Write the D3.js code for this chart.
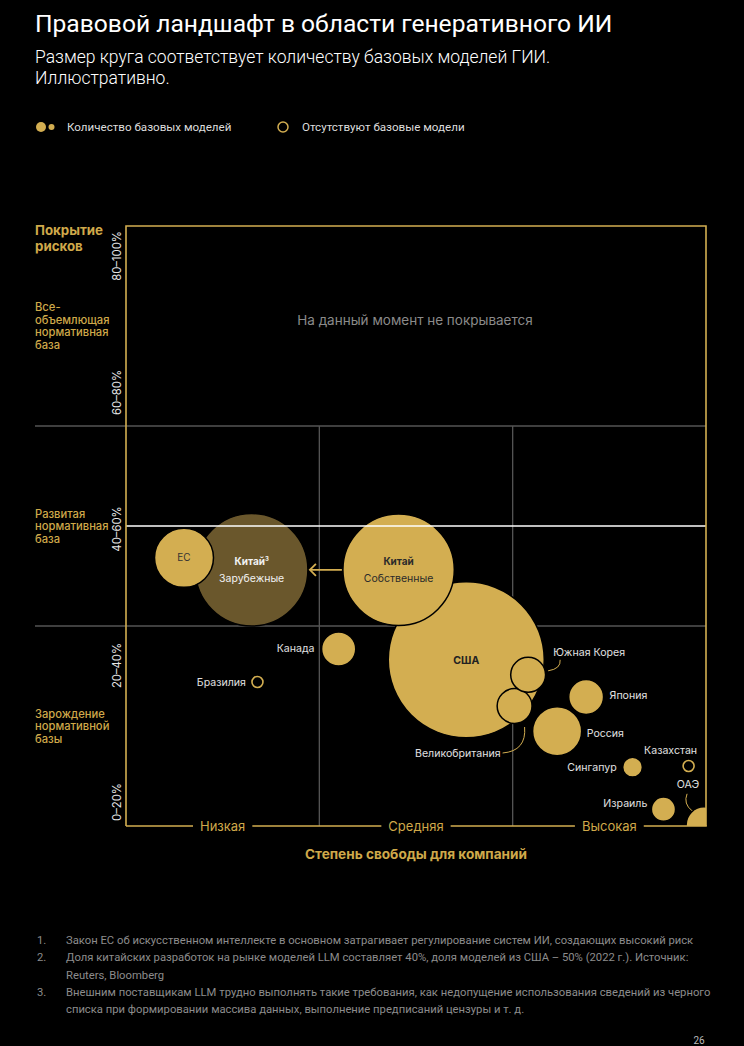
<!DOCTYPE html>
<html><head><meta charset="utf-8">
<script src="https://cdn.jsdelivr.net/npm/d3@7"></script>
<style>
html,body{margin:0;padding:0;background:#000;}
svg{display:block;}
</style></head>
<body>
<svg id="chart" width="744" height="1046"></svg>
<script>
// ---------------- DATA ----------------
const countries   = ["Китай", "ЕС", "США", "Китай", "Канада", "Бразилия", "Великобритания", "Южная Корея", "Япония", "Россия", "Сингапур", "Казахстан", "Израиль", "ОАЭ"];
const subLabels   = ["Зарубежные", "", "", "Собственные", "", "", "", "", "", "", "", "", "", ""];
const modelOrigin = ["foreign", "own", "own", "own", "own", "own", "own", "own", "own", "own", "own", "own", "own", "own"];
// Степень свободы для компаний: 0–3 (низкая / средняя / высокая)
const freedom     = [0.65, 0.30, 1.76, 1.41, 1.10, 0.68, 2.01, 2.08, 2.38, 2.23, 2.62, 2.91, 2.78, 2.99];
// Покрытие рисков, %
const riskCoverage= [42.7, 44.7, 27.7, 42.7, 29.5, 24.0, 20.0, 25.2, 21.5, 15.8, 9.8, 10.0, 2.8, 0.2];
// Количество базовых моделей (иллюстративно)
const modelCounts = [52, 14.3, 100, 51, 4.8, 0, 5.0, 5.0, 5.0, 9.9, 1.6, 0, 2.4, 5.3];

const xTickLabels = ["Низкая", "Средняя", "Высокая"];
const yTickLabels = ["0–20%", "20–40%", "40–60%", "60–80%", "80–100%"];
const levelLabels = [["Зарождение", "нормативной", "базы"], ["Развитая", "нормативная", "база"], ["Все-", "объемлющая", "нормативная", "база"]];
const legendLabels = ["Количество базовых моделей", "Отсутствуют базовые модели"];
const footnotes = [
  ["1.", ["Закон ЕС об искусственном интеллекте в основном затрагивает регулирование систем ИИ, создающих высокий риск"]],
  ["2.", ["Доля китайских разработок на рынке моделей LLM составляет 40%, доля моделей из США – 50% (2022 г.). Источник:", "Reuters, Bloomberg"]],
  ["3.", ["Внешним поставщикам LLM трудно выполнять такие требования, как недопущение использования сведений из черного", "списка при формировании массива данных, выполнение предписаний цензуры и т. д."]]
];

// ---------------- STYLE ----------------
const GOLD = "#D3AE51", GOLD_TXT = "#CFA94A", BROWN = "#6A572C", GRID = "#555", LABEL = "#e0e0e0";
const FONT = "Inter, 'Open Sans', sans-serif";
const FONT2 = "Roboto, 'Liberation Sans', sans-serif";

const svg = d3.select("#chart");
const L = 126, R = 706, T = 226, B = 826;

const x = d3.scaleLinear().domain([0, 3]).range([L, R]);
const y = d3.scaleLinear().domain([0, 100]).range([B, T]);
const r = d3.scaleSqrt().domain([0, 100]).range([0, 78]);
const xBand = d3.scaleBand().domain(xTickLabels).range([L, R]);
const yLevel = d3.scaleBand().domain(levelLabels.map(d => d[0])).range([B, T]);
const yTick = d3.scalePoint().domain(yTickLabels).range([y(4), y(95)]);

// ---------------- TITLE ----------------
svg.append("text").attr("x", 35).attr("y", 32).attr("fill", "#fff")
  .attr("font-family", FONT2).attr("font-size", 24.6).text("Правовой ландшафт в области генеративного ИИ");
["Размер круга соответствует количеству базовых моделей ГИИ.", "Иллюстративно."].forEach((t, i) =>
  svg.append("text").attr("x", 35).attr("y", 63 + i * 21).attr("fill", "#fff")
    .attr("font-family", FONT2).attr("font-size", 17.5).attr("font-weight", 300).text(t));

// ---------------- LEGEND ----------------
const lg = svg.append("g").attr("font-family", FONT2).attr("font-size", 11.6).attr("fill", "#ddd");
lg.append("circle").attr("cx", 41).attr("cy", 127).attr("r", 5).attr("fill", GOLD);
lg.append("circle").attr("cx", 51.5).attr("cy", 127).attr("r", 3).attr("fill", GOLD);
lg.append("text").attr("x", 67).attr("y", 131).text(legendLabels[0]);
lg.append("circle").attr("cx", 283).attr("cy", 127).attr("r", 5).attr("fill", "none").attr("stroke", GOLD).attr("stroke-width", 1.5);
lg.append("text").attr("x", 302).attr("y", 131).text(legendLabels[1]);

// ---------------- GRID ----------------
const grid = svg.append("g");
[1/3, 2/3].forEach(f => grid.append("line").attr("x1", 35).attr("x2", R)
  .attr("y1", y(f * 100)).attr("y2", y(f * 100)).attr("stroke", GRID).attr("stroke-width", 1.3));
[1, 2].forEach(v => grid.append("line").attr("x1", x(v)).attr("x2", x(v))
  .attr("y1", y(200/3)).attr("y2", B).attr("stroke", GRID).attr("stroke-width", 1.3));

svg.append("text").attr("x", (L + R) / 2 - 1).attr("y", yLevel(levelLabels[2][0]) + yLevel.bandwidth() / 2 - 1.5)
  .attr("text-anchor", "middle").attr("fill", "#8a8a8a").attr("font-family", FONT).attr("font-size", 13.5)
  .text("На данный момент не покрывается");

// ---------------- BUBBLES ----------------
const data = countries.map((c, i) => ({c, sub: subLabels[i], origin: modelOrigin[i], fx: freedom[i], fy: riskCoverage[i], n: modelCounts[i]}));
const drawOrder = [0, 1, 2, 3, 4, 5, 6, 7, 8, 9, 10, 11, 12, 13];
const plot = svg.append("g");
plot.append("clipPath").attr("id", "clip").append("rect").attr("x", L).attr("y", T).attr("width", R - L).attr("height", B - T);
const bub = plot.append("g").attr("clip-path", "url(#clip)");
drawOrder.map(i => data[i]).forEach(d => {
  if (d.n > 0) {
    bub.append("circle").attr("cx", x(d.fx)).attr("cy", y(d.fy)).attr("r", r(d.n))
      .attr("fill", d.origin === "foreign" ? BROWN : GOLD)
      .attr("stroke", "#000").attr("stroke-width", 1.5);
  } else {
    bub.append("circle").attr("cx", x(d.fx)).attr("cy", y(d.fy)).attr("r", 5.5)
      .attr("fill", "none").attr("stroke", GOLD).attr("stroke-width", 1.6);
  }
});

// white reference line
svg.append("line").attr("x1", L).attr("x2", R).attr("y1", y(50)).attr("y2", y(50)).attr("stroke", "#fff").attr("stroke-width", 1.6);

// arrow from own to foreign (China)
const cf = data[0], co = data[3];
const ax1 = x(co.fx) - r(co.n) - 1, ax2 = x(cf.fx) + r(cf.n) + 1, ay = y(co.fy);
svg.append("line").attr("x1", ax1).attr("x2", ax2 + 1).attr("y1", ay).attr("y2", ay).attr("stroke", GOLD).attr("stroke-width", 1.8);
svg.append("path").attr("d", `M${ax2 + 7},${ay - 6} L${ax2 + 1},${ay} L${ax2 + 7},${ay + 6}`)
  .attr("fill", "none").attr("stroke", GOLD).attr("stroke-width", 1.8);

// labels inside bubbles
const inner = svg.append("g").attr("font-family", FONT).attr("text-anchor", "middle");
[[0, "#f2f2f2"], [3, "#2a2a2a"]].forEach(([i, col]) => {
  const d = data[i];
  const t = inner.append("text").attr("x", x(d.fx)).attr("y", y(d.fy) - 5).attr("fill", col).attr("font-size", 10).attr("font-weight", 700).text(d.c);
  if (i === 0) t.append("tspan").attr("font-size", 6).attr("dy", -4).text("3");
  inner.append("text").attr("x", x(d.fx)).attr("y", y(d.fy) + 12).attr("fill", col).attr("font-size", 10.5).text(d.sub);
});
inner.append("text").attr("x", x(data[1].fx)).attr("y", y(data[1].fy) + 3.5).attr("fill", "#333").attr("font-size", 10).text(data[1].c);
inner.append("text").attr("x", x(data[2].fx)).attr("y", y(data[2].fy) + 4).attr("fill", "#222").attr("font-size", 10.5).attr("font-weight", 700).text(data[2].c);

// outside labels: [anchor, dx, dy] relative to bubble center and radius
const place = {
  "Канада": ["end", -7, 3], "Бразилия": ["end", -6, 4], "Южная Корея": ["start", 25, -19],
  "Япония": ["start", 6, 2], "Россия": ["start", 5, 6], "Сингапур": ["end", -6, 4],
  "Казахстан": ["middle", -18, -12], "Израиль": ["end", -4, -2], "ОАЭ": ["middle", -16, -37],
  "Великобритания": ["end", -14, 51]
};
const lab = svg.append("g").attr("font-family", FONT).attr("font-size", 10.6).attr("fill", LABEL);
data.forEach(d => {
  const p = place[d.c]; if (!p) return;
  const rr = d.n > 0 ? r(d.n) : 5.5;
  const cx = x(d.fx), cy = y(d.fy);
  let tx = cx + p[1];
  if (["Канада", "Бразилия", "Сингапур", "Израиль"].includes(d.c)) tx = cx - rr + p[1];
  if (["Япония", "Россия"].includes(d.c)) tx = cx + rr + p[1];
  lab.append("text").attr("x", tx).attr("y", cy + p[2]).attr("text-anchor", p[0]).text(d.c);
});
// leader lines
const lead = svg.append("g").attr("fill", "none").attr("stroke", GOLD).attr("stroke-width", 1);
{ const d = data[7], cx = x(d.fx), cy = y(d.fy);
  lead.append("path").attr("d", `M${cx + 20},${cy - 4} Q${cx + 33},${cy - 6} ${cx + 32},${cy - 15}`); }
{ const d = data[6], cx = x(d.fx), cy = y(d.fy);
  lead.append("path").attr("d", `M${cx + 10},${cy + 21} Q${cx + 12},${cy + 45} ${cx - 12},${cy + 47}`); }
{ const d = data[13], cx = x(d.fx), cy = y(d.fy);
  lead.append("path").attr("d", `M${cx - 17},${cy - 31} Q${cx - 21},${cy - 21} ${cx - 12},${cy - 14}`); }

// ---------------- FRAME & AXES ----------------
const frame = svg.append("g").attr("stroke", GOLD).attr("stroke-width", 1.6).attr("fill", "none");
frame.append("path").attr("d", `M${L},${B} L${L},${T} L${R},${T} L${R},${B}`);

// bottom axis with gaps for labels
const xl = svg.append("g").attr("font-family", FONT).attr("font-size", 13).attr("fill", GOLD_TXT).attr("text-anchor", "middle");
let prev = L;
xTickLabels.forEach(t => {
  const cxl = xBand(t) + xBand.bandwidth() / 2;
  const te = xl.append("text").attr("x", cxl).attr("y", B + 4.5).text(t);
  const w = te.node().getComputedTextLength();
  frame.append("line").attr("x1", prev).attr("x2", cxl - w / 2 - 7).attr("y1", B).attr("y2", B);
  prev = cxl + w / 2 + 7;
});
frame.append("line").attr("x1", prev).attr("x2", R + 0.8).attr("y1", B).attr("y2", B);

svg.append("text").attr("x", (L + R) / 2).attr("y", B + 33).attr("text-anchor", "middle")
  .attr("font-family", FONT).attr("font-size", 13.6).attr("font-weight", 700).attr("fill", GOLD_TXT)
  .text("Степень свободы для компаний");

// y tick labels (rotated)
const yl = svg.append("g").attr("font-family", FONT).attr("font-size", 11.3).attr("fill", "#e6e6e6").attr("text-anchor", "middle");
yTickLabels.forEach(t => {
  yl.append("text").attr("transform", `translate(${L - 5},${yTick(t)}) rotate(-90)`).text(t);
});

// level labels
const lv = svg.append("g").attr("font-family", FONT).attr("font-size", 11.2).attr("font-weight", 500).attr("fill", GOLD_TXT);
levelLabels.forEach(lines => {
  const c = yLevel(lines[0]) + yLevel.bandwidth() / 2;
  const lh = 12.5;
  lines.forEach((ln, i) => lv.append("text").attr("x", 35).attr("y", c - (lines.length - 1) * lh / 2 + i * lh + 4).text(ln));
});
["Покрытие", "рисков"].forEach((t, i) => svg.append("text").attr("x", 35).attr("y", T + 9 + i * 16)
  .attr("font-family", FONT).attr("font-size", 13.3).attr("font-weight", 700).attr("fill", GOLD_TXT).text(t));

// ---------------- FOOTNOTES ----------------
const fn = svg.append("g").attr("font-family", FONT2).attr("font-size", 11.25).attr("fill", "#8c8c8c");
let fy = 944;
footnotes.forEach(([num, lines]) => {
  fn.append("text").attr("x", 37).attr("y", fy).text(num);
  lines.forEach(l => { fn.append("text").attr("x", 66).attr("y", fy).text(l); fy += 17.3; });
});
svg.append("text").attr("x", 699).attr("y", 1044).attr("text-anchor", "middle").attr("font-family", FONT2)
  .attr("font-size", 10).attr("fill", "#bbb").text("26");
</script>
</body></html>
